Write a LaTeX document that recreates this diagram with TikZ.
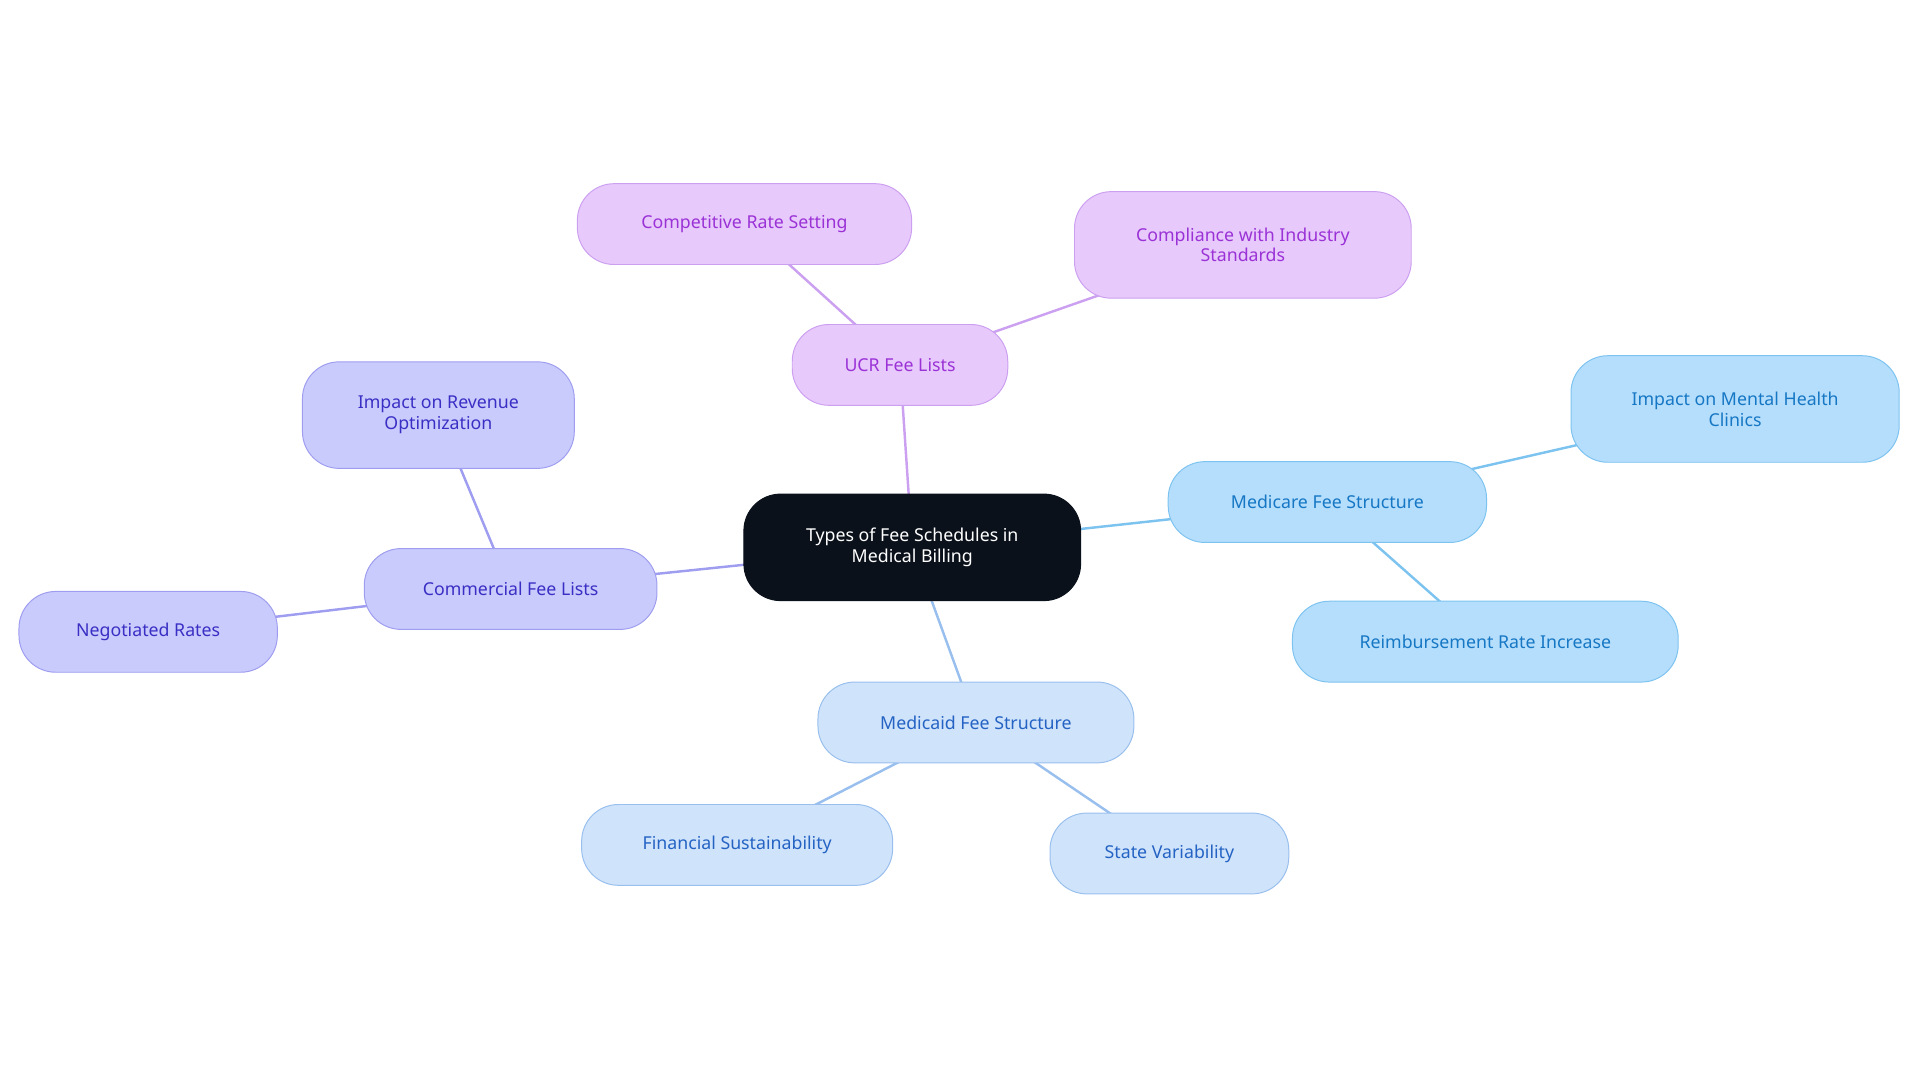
\documentclass[tikz,border=0pt]{standalone}
\usepackage{fontspec}
\setmainfont{Noto Sans}
\usetikzlibrary{backgrounds}
\definecolor{pF}{HTML}{E8C9FC}\definecolor{pD}{HTML}{CCA0F0}\definecolor{pT}{HTML}{9A32D6}
\definecolor{vF}{HTML}{C9CBFC}\definecolor{vD}{HTML}{9E9DF0}\definecolor{vT}{HTML}{3A2FC4}
\definecolor{bF}{HTML}{B5DEFC}\definecolor{bD}{HTML}{7DC3F0}\definecolor{bT}{HTML}{1677C4}
\definecolor{cF}{HTML}{CFE3FA}\definecolor{cD}{HTML}{98BFEE}\definecolor{cT}{HTML}{2463C4}
\definecolor{kF}{HTML}{0B111B}
\begin{document}
\begin{tikzpicture}[x=1pt,y=-1pt,
 box/.style={rounded corners=30pt,line width=0.8pt,align=center,inner sep=0pt,font=\fontsize{14.5}{17}\selectfont},
 P/.style={box,fill=pF,draw=pD,text=pT},
 V/.style={box,fill=vF,draw=vD,text=vT},
 B/.style={box,fill=bF,draw=bD,text=bT},
 C/.style={box,fill=cF,draw=cD,text=cT},
 e/.style={line width=2pt}]
\useasboundingbox (0,0) rectangle (1568,884);
\node[box,fill=kF,draw=kF,text=white,minimum width=275pt,minimum height=87pt] (c) at (745,447) {Types of Fee Schedules in\\Medical Billing};
\node[P,minimum width=176pt,minimum height=66pt] (u) at (735,298) {UCR Fee Lists};
\node[P,minimum width=273pt,minimum height=66pt] (u1) at (608,183) {Competitive Rate Setting};
\node[P,minimum width=275pt,minimum height=87pt] (u2) at (1015,200) {Compliance with Industry\\Standards};
\node[B,minimum width=260pt,minimum height=66pt] (m) at (1084,410) {Medicare Fee Structure};
\node[B,minimum width=268pt,minimum height=87pt] (m1) at (1417,334) {Impact on Mental Health\\Clinics};
\node[B,minimum width=315pt,minimum height=66pt] (m2) at (1213,524) {Reimbursement Rate Increase};
\node[C,minimum width=258pt,minimum height=66pt] (d) at (797,590) {Medicaid Fee Structure};
\node[C,minimum width=254pt,minimum height=66pt] (d1) at (602,690) {Financial Sustainability};
\node[C,minimum width=195pt,minimum height=66pt] (d2) at (955,697) {State Variability};
\node[V,minimum width=239pt,minimum height=66pt] (k) at (417,481) {Commercial Fee Lists};
\node[V,minimum width=222pt,minimum height=87pt] (k1) at (358,339) {Impact on Revenue\\Optimization};
\node[V,minimum width=211pt,minimum height=66pt] (k2) at (121,516) {Negotiated Rates};
\begin{scope}[on background layer]
\draw[e,pD] (c.center)--(u.center) (u.center)--(u1.center) (u.center)--(u2.center);
\draw[e,bD] (c.center)--(m.center) (m.center)--(m1.center) (m.center)--(m2.center);
\draw[e,cD] (c.center)--(d.center) (d.center)--(d1.center) (d.center)--(d2.center);
\draw[e,vD] (c.center)--(k.center) (k.center)--(k1.center) (k.center)--(k2.center);
\end{scope}
\end{tikzpicture}
\end{document}
